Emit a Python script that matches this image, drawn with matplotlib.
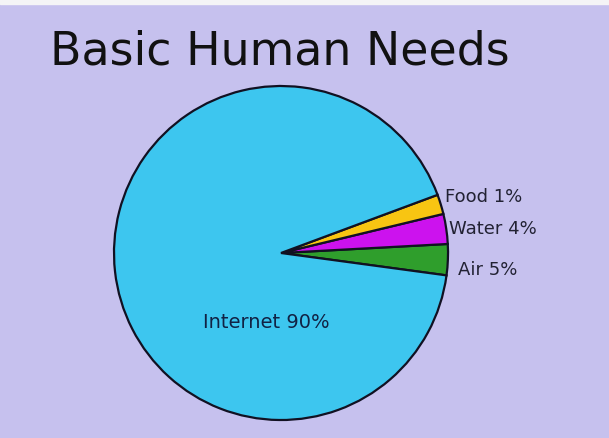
import matplotlib
matplotlib.use("Agg")
import matplotlib.pyplot as plt

# Data as printed on the chart
categories = ["Air", "Water", "Food", "Internet"]
label_pcts = [5, 4, 1, 90]
# Wedge shares as actually drawn in the picture (the joke chart is not to scale)
wedge_shares = [3.0, 2.9, 1.9, 92.2]
colors = ["#2f9e2c", "#cc12ee", "#f8c512", "#3dc6ef"]
title = "Basic Human Needs"

W, H = 609, 439
fig = plt.figure(figsize=(W / 100, H / 100), dpi=100)
fig.patch.set_facecolor("#c6c1ee")
ax = fig.add_axes([0, 0, 1, 1])
ax.set_xlim(0, W)
ax.set_ylim(0, H)
ax.set_aspect("equal")
ax.axis("off")

cx, cy, r = 281, H - 254, 167
ax.pie(wedge_shares, colors=colors, startangle=-7.7, counterclock=True,
       center=(cx, cy), radius=r, frame=True,
       wedgeprops=dict(edgecolor="#111122", linewidth=1.6))
ax.set_xlim(0, W)
ax.set_ylim(0, H)
ax.axis("off")

# top white strip
ax.axhspan(H - 5, H, color="#f4f4f6", zorder=0)

fam = ["DejaVu Sans"]
ax.text(50, H - 52, title, fontsize=33, family=fam, color="#111111",
        va="center", ha="left")

lab_pos = {"Food": (445, 197), "Water": (449, 229), "Air": (458, 270)}
for c, p in zip(categories, label_pcts):
    txt = f"{c} {p}%"
    if c in lab_pos:
        x, y = lab_pos[c]
        ax.text(x, H - y, txt, fontsize=13, family=fam, color="#222233",
                va="center", ha="left")
    else:
        ax.text(266, H - 323, txt, fontsize=14, family=fam, color="#112244",
                va="center", ha="center")

fig.savefig("out.png", dpi=100, facecolor=fig.get_facecolor())
